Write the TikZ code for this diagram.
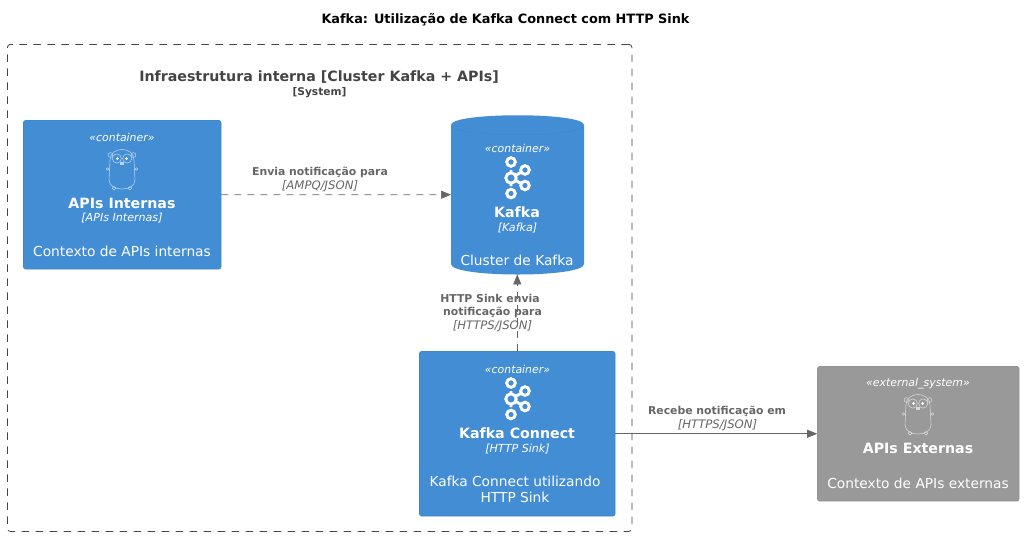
\documentclass[tikz,border=0pt]{standalone}
\usepackage{fontspec}
\setmainfont{DejaVu Sans}
\usetikzlibrary{arrows.meta}
\definecolor{ctblue}{HTML}{438DD5}
\definecolor{ctborder}{HTML}{3F87CC}
\definecolor{extgrey}{HTML}{999999}
\definecolor{extborder}{HTML}{939393}
\definecolor{lblgrey}{HTML}{666666}
\definecolor{bndgrey}{HTML}{444444}
\newcommand{\fs}[1]{\fontsize{#1}{#1}\selectfont}
\tikzset{
  x=1pt,y=-1pt,
  boxnode/.style={draw=ctborder,fill=ctblue,rounded corners=2pt,line width=.6pt,inner sep=0pt,anchor=north west},
  extnode/.style={draw=extborder,fill=extgrey,rounded corners=2pt,line width=.6pt,inner sep=0pt,anchor=north west},
  anchornode/.style={inner sep=0pt,anchor=north west},
  txt/.style={text=white,inner sep=0pt,align=center,anchor=center},
  stereo/.style={txt,font=\fs{10.9}\itshape},
  boxname/.style={txt,font=\fs{14.2}\bfseries},
  techname/.style={txt,font=\fs{11.1}\itshape},
  descr/.style={txt,font=\fs{13.75}},
  lbl/.style={inner sep=0pt,align=center,anchor=center,text=lblgrey,font=\fs{10.85}\bfseries},
  lbli/.style={inner sep=0pt,align=center,anchor=center,text=lblgrey,font=\fs{11.7}\itshape},
  rel/.style={draw=lblgrey,line width=.7pt,-{Triangle[length=10pt,width=8pt]}},
  reldash/.style={rel,dash pattern=on 7pt off 6pt},
  pics/gopher/.style={code={
    \begin{scope}[line width=.55pt,draw=#1]
      \draw (-12,-10) .. controls (-12,-24) and (12,-24) .. (12,-10)
            -- (13,10) .. controls (13,22) and (-13,22) .. (-13,10) -- cycle;
      \draw (-11.5,-15) circle[radius=2.4];
      \draw (11.5,-15) circle[radius=2.4];
      \draw (-5.2,-11.5) circle[radius=4.6];
      \draw (5.2,-11.5) circle[radius=4.6];
      \fill[white] (-4.5,-11.5) circle[radius=1.5];
      \fill[white] (4.5,-11.5) circle[radius=1.5];
      \fill[#1] (-1.6,-8) rectangle (1.6,-5.5);
      \draw (-14.5,-1) circle[radius=1.3];
      \draw (14.5,-1) circle[radius=1.3];
      \draw (-8,18.3) circle[radius=1.8];
      \draw (8,18.3) circle[radius=1.8];
    \end{scope}
  }},
  pics/kafkalogo/.style={code={
    \begin{scope}[line width=2.9pt,draw=white]
      \draw (-6.5,-8) -- (-6.5,8) (-6.5,0) -- (7.5,-8) (-6.5,0) -- (7.5,7.5);
      \draw[fill=ctblue] (-6.5,-16) circle[radius=4.3];
      \draw[fill=ctblue] (-6.5,0) circle[radius=5.2];
      \draw[fill=ctblue] (-6.5,15.5) circle[radius=4.3];
      \draw[fill=ctblue] (7.5,-8) circle[radius=4.3];
      \draw[fill=ctblue] (7.5,7.5) circle[radius=4.3];
    \end{scope}
  }}
}
\begin{document}
\begin{tikzpicture}
\useasboundingbox (0,0) rectangle (1024,536);

\node[inner sep=0pt,text=black,font=\fs{12.85}\bfseries] (title) at (505.5,19.5) {Kafka: Utilização de Kafka Connect com HTTP Sink};

% boundary
\node[draw=bndgrey,line width=.8pt,dash pattern=on 7.5pt off 6.5pt,rounded corners=3pt,anchor=north west,inner sep=0pt,minimum width=624.5pt,minimum height=487pt] (boundary) at (7,44) {};
\node[inner sep=0pt,text=bndgrey,font=\fs{14.2}\bfseries] (bndname) at (319,77) {Infraestrutura interna [Cluster Kafka + APIs]};
\node[inner sep=0pt,text=bndgrey,font=\fs{10.6}\bfseries] (bndkind) at (319.5,92.5) {[System]};

% APIs Internas
\node[boxnode,minimum width=197.5pt,minimum height=148.5pt] (apis) at (23.2,120.2) {};
\node[stereo] (s1) at (122,137.5) {«container»};
\pic at (122,170) {gopher={white!62!ctblue}};
\node[boxname] (n1) at (122,203) {APIs Internas};
\node[techname] (t1) at (122,218.5) {[APIs Internas]};
\node[descr] (d1) at (122,251) {Contexto de APIs internas};

% Kafka cylinder
\fill[ctblue] (451,125) .. controls (451,112) and (584,112) .. (584,125) -- (584,264)
   .. controls (584,278) and (451,278) .. (451,264) -- cycle;
\draw[ctborder,line width=.5pt] (451,125) .. controls (451,138) and (584,138) .. (584,125);
\node[anchornode,minimum width=133pt,minimum height=159pt] (kafka) at (451,115) {};
\node[stereo] (s2) at (517.5,148) {«container»};
\pic at (517.5,178) {kafkalogo};
\node[boxname] (n2) at (517,212) {Kafka};
\node[techname] (t2) at (517.5,228.5) {[Kafka]};
\node[descr] (d2) at (517,260) {Cluster de Kafka};

% Kafka Connect
\node[boxnode,minimum width=195.5pt,minimum height=164.5pt] (connect) at (419.2,351.2) {};
\node[stereo] (s3) at (517.5,369) {«container»};
\pic at (517.5,399) {kafkalogo};
\node[boxname] (n3) at (517,433) {Kafka Connect};
\node[techname] (t3) at (517.5,449.5) {[HTTP Sink]};
\node[descr] (d3) at (515,489) {Kafka Connect utilizando\\[2.4pt]HTTP Sink};

% APIs Externas
\node[extnode,minimum width=201.5pt,minimum height=134.5pt] (ext) at (817.2,366.2) {};
\node[stereo] (s4) at (918,384) {«external\_system»};
\pic at (918,415) {gopher={white!62!extgrey}};
\node[boxname] (n4) at (918,448) {APIs Externas};
\node[descr] (d4) at (918,483) {Contexto de APIs externas};

% connectors
\draw[reldash] (apis) -- (kafka);
\draw[reldash] (connect.north) -- (connect.north |- kafka.south);
\draw[rel] (connect) -- (ext);

% connector labels
\node[lbl] (l1) at (320,172.5) {Envia notificação para};
\node[lbli] (l1b) at (320,186.5) {[AMPQ/JSON]};
\node[lbl] (l2) at (490,298.5) {HTTP Sink envia};
\node[lbl] (l2a) at (492.5,312.5) {notificação para};
\node[lbli] (l2b) at (492.5,326.5) {[HTTPS/JSON]};
\node[lbl] (l3) at (717,411.5) {Recebe notificação em};
\node[lbli] (l3b) at (717.5,425.5) {[HTTPS/JSON]};
\end{tikzpicture}
\end{document}
